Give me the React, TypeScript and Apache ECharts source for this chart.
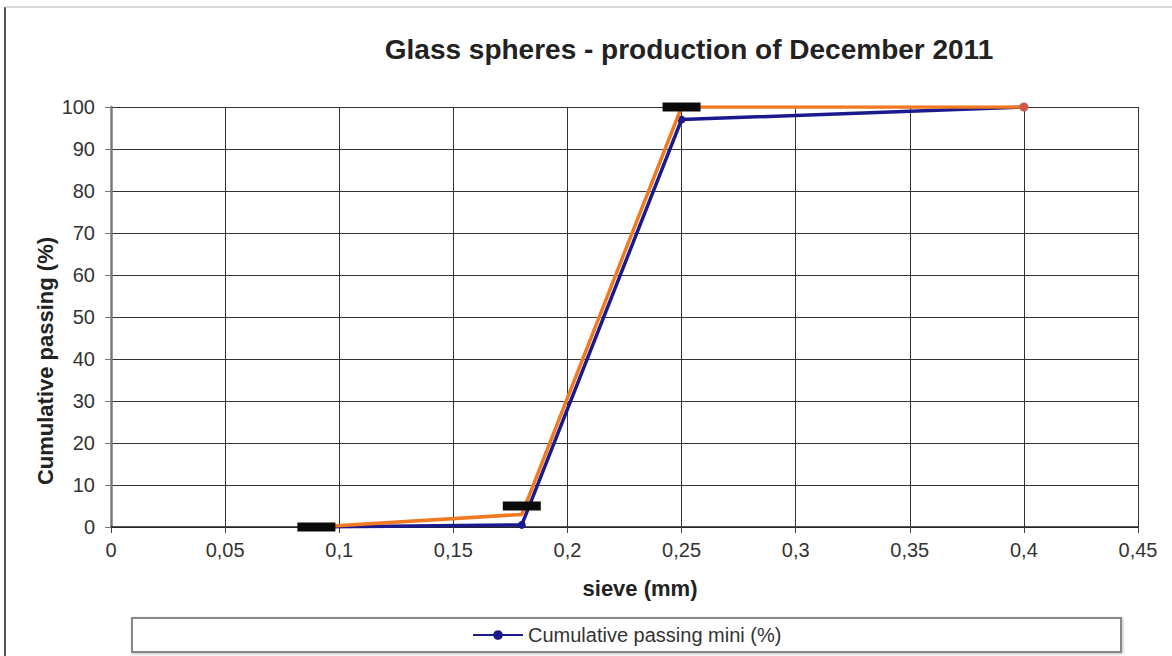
import React, { useEffect, useRef } from "react";
import * as echarts from "echarts";

const sieveMm = [0.09, 0.18, 0.25, 0.4];
const passingMini = [0, 0.5, 97, 100];
const passingMaxi = [0, 3, 100, 100];
const specSieve = [0.09, 0.18, 0.25];
const specLimit = [0, 5, 100];

const titleText = "Glass spheres - production of December 2011";
const xName = "sieve (mm)";
const yName = "Cumulative passing (%)";
const miniName = "Cumulative passing mini (%)";
const maxiName = "Cumulative passing maxi (%)";

const FONT = "'Liberation Sans', Arial, sans-serif";

export default function App() {
  const ref = useRef<HTMLDivElement>(null);
  useEffect(() => {
    if (!ref.current) return;
    const chart = echarts.init(ref.current, null, { renderer: "svg" });
    const fmt = (v: number) => String(+v.toFixed(2)).replace(".", ",");
    const last = sieveMm.length - 1;
    chart.setOption({
      animation: false,
      backgroundColor: "#ffffff",
      textStyle: { fontFamily: FONT },
      title: {
        text: titleText,
        left: 684,
        top: 30,
        textAlign: "center",
        textStyle: { fontFamily: FONT, fontSize: 28, fontWeight: "bold", color: "#222" },
      },
      grid: { left: 111, right: 34, top: 107, bottom: 129 },
      legend: {
        data: [miniName],
        left: 472,
        top: 625,
        padding: 0,
        itemWidth: 50,
        itemHeight: 12,
        itemGap: 5,
        z: 10,
        textStyle: { fontFamily: FONT, fontSize: 20, color: "#333" },
      },
      xAxis: {
        type: "value",
        min: 0,
        max: 0.45,
        interval: 0.05,
        axisLine: { show: true, lineStyle: { color: "#222", width: 1.5 } },
        axisTick: { show: true, length: 6, lineStyle: { color: "#444" } },
        axisLabel: { formatter: fmt, fontSize: 20, color: "#333", margin: 13, fontFamily: FONT },
        splitLine: { show: true, lineStyle: { color: "#333", width: 1 } },
      },
      yAxis: {
        type: "value",
        min: 0,
        max: 100,
        interval: 10,
        axisLine: { show: true, lineStyle: { color: "#7a7a7a", width: 2.5 } },
        axisTick: { show: true, length: 6, lineStyle: { color: "#7a7a7a" } },
        axisLabel: { fontSize: 20, color: "#333", margin: 16, fontFamily: FONT },
        splitLine: { show: true, lineStyle: { color: "#333", width: 1 } },
      },
      graphic: [
        { type: "line", z: 0, shape: { x1: 5, y1: 7, x2: 5, y2: 656 }, style: { stroke: "#555", lineWidth: 2 } },
        { type: "line", z: 0, shape: { x1: 5, y1: 7, x2: 1172, y2: 7 }, style: { stroke: "#ccc", lineWidth: 1.5 } },
        {
          type: "rect",
          z: 0,
          shape: { x: 132, y: 618, width: 989, height: 34 },
          style: { stroke: "#888", lineWidth: 2, fill: "#fff", shadowBlur: 3, shadowColor: "rgba(0,0,0,0.25)", shadowOffsetX: 1, shadowOffsetY: 1 },
        },
        {
          type: "text",
          x: 45,
          y: 361,
          rotation: Math.PI / 2,
          style: {
            text: yName,
            fontFamily: FONT,
            fontSize: 22,
            fontWeight: "bold",
            fill: "#222",
            align: "center",
            verticalAlign: "middle",
          },
        },
        {
          type: "text",
          x: 640,
          y: 588,
          style: {
            text: xName,
            fontFamily: FONT,
            fontSize: 22,
            fontWeight: "bold",
            fill: "#222",
            align: "center",
            verticalAlign: "middle",
          },
        },
      ],
      series: [
        {
          name: miniName,
          type: "line",
          data: sieveMm.map((x, i) => [x, passingMini[i]]),
          symbol: "circle",
          symbolSize: 8,
          lineStyle: { color: "#1a1a8e", width: 3.5 },
          itemStyle: { color: "#1a1a8e" },
          z: 3,
        },
        {
          name: maxiName,
          type: "line",
          data: sieveMm.map((x, i) =>
            i === last ? { value: [x, passingMaxi[i]] } : { value: [x, passingMaxi[i]], symbol: "none" }
          ),
          symbol: "circle",
          symbolSize: 9,
          lineStyle: { color: "#f07a22", width: 3.5 },
          itemStyle: { color: "#cf5a4a" },
          z: 4,
        },
        {
          name: "Specification",
          type: "scatter",
          data: specSieve.map((x, i) => [x, specLimit[i]]),
          symbol: "rect",
          symbolSize: [38, 9],
          itemStyle: { color: "#0a0a0a", opacity: 1 },
          z: 6,
        },
      ],
    });
    return () => chart.dispose();
  }, []);
  return (
    <div
      ref={ref}
      style={{ position: "fixed", left: 0, top: 0, width: 1172, height: 656, background: "#fff" }}
    />
  );
}
